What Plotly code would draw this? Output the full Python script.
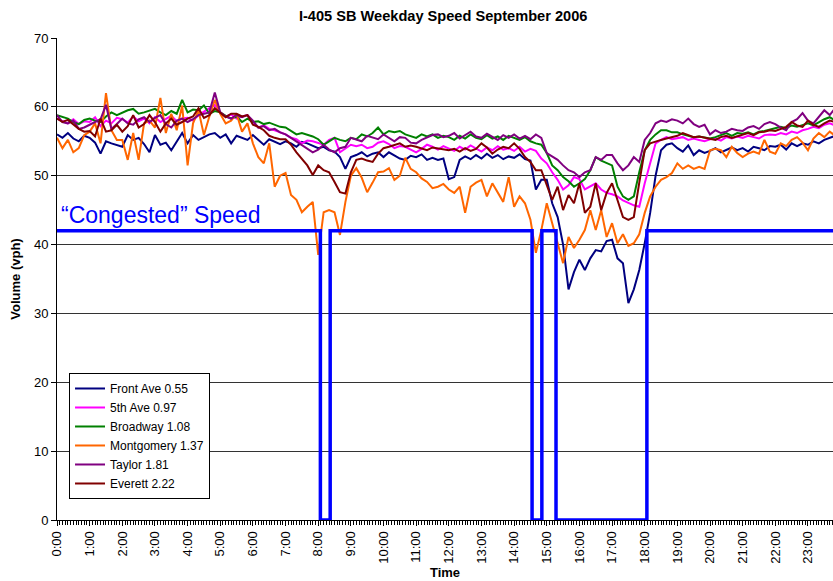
import pandas as pd
import plotly.graph_objects as go

DAY = "2006-09-01"
# 10-minute samples, 0:00 .. 23:50
times = pd.date_range(f"{DAY} 00:00", periods=144, freq="10min")

front_ave = [
    56.0, 55.5, 56.2, 55.4, 55.0, 55.8,
    55.5, 54.8, 53.2, 55.0, 54.7, 54.5,
    54.2, 55.9, 55.2, 55.5, 54.6, 53.4,
    55.9, 54.5, 54.8, 53.7, 55.0, 56.2,
    54.7, 55.9, 55.2, 55.6, 56.0, 56.2,
    55.5, 56.0, 54.7, 55.8, 55.5, 55.2,
    55.9, 55.2, 54.5, 55.3, 55.0, 54.6,
    55.0, 54.7, 54.2, 54.9, 54.7, 54.3,
    54.0, 54.2, 53.7, 53.5, 52.7, 51.0,
    52.7, 53.0, 53.4, 52.8, 53.2, 53.4,
    52.7, 53.4, 53.0, 52.5, 52.3, 52.9,
    52.7, 53.1, 52.3, 52.6, 52.3, 52.5,
    49.5, 49.8, 52.3, 52.8, 52.4, 53.0,
    52.5, 53.2, 52.6, 53.0, 52.4, 52.8,
    52.6, 53.1, 52.4, 52.2, 48.0, 49.4,
    49.4, 46.0, 44.0, 40.0, 33.5, 36.0,
    37.8, 36.3, 38.0, 39.2, 39.0, 40.5,
    40.7, 38.0, 37.3, 31.5, 33.5, 36.3,
    40.2, 44.6, 50.0, 53.7, 54.5, 54.7,
    54.0, 53.5, 54.4, 53.0, 53.7, 53.3,
    53.6, 54.0, 53.4, 53.7, 54.1, 53.7,
    54.0, 53.5, 54.2, 54.0, 53.7, 54.3,
    54.2, 54.5, 53.8, 54.7, 54.3, 54.7,
    54.5, 55.0, 54.7, 55.2, 55.5, 55.8,
]

fifth_ave = [
    58.3, 58.0, 57.6, 58.2, 57.5, 57.9,
    57.8, 58.5, 57.2, 58.0, 57.6, 58.4,
    58.2, 57.7, 58.6, 57.9, 58.3, 57.6,
    58.5, 57.8, 58.2, 58.7, 57.9, 58.3,
    58.4, 58.0, 58.8, 59.3, 59.8, 60.3,
    59.2, 58.6, 58.9, 58.3, 58.6, 58.8,
    57.8, 57.0, 57.3, 56.8, 56.6, 56.3,
    56.0, 55.5, 55.3, 54.7, 55.1, 55.0,
    54.8, 54.5, 55.2, 55.5, 53.4, 54.0,
    54.5, 54.3, 54.5, 54.0, 54.2, 54.8,
    55.0, 54.6, 54.0, 54.3, 54.2, 53.8,
    53.4, 53.9, 54.5, 54.2, 53.8, 54.3,
    54.0, 53.6, 54.2, 53.8, 54.4, 53.9,
    53.5, 54.1, 53.7, 54.3, 53.8, 54.0,
    53.6, 54.2, 53.5, 53.9, 53.6, 52.5,
    51.8, 50.5, 49.4, 48.0, 48.6, 49.8,
    49.5, 48.0, 48.4, 48.9, 48.0, 47.5,
    47.3, 47.0, 46.4, 46.0, 45.7, 45.5,
    48.9, 51.8, 54.7, 55.2, 55.6, 55.3,
    55.4, 55.6, 55.2, 55.4, 55.2, 55.0,
    55.3, 55.4, 55.1, 55.6, 55.4, 55.7,
    55.5, 55.8, 55.6, 55.4, 55.9, 56.0,
    55.9, 56.2, 56.0, 56.4, 56.2, 56.6,
    56.8, 57.1, 56.9, 57.4, 57.6, 57.3,
]

broadway = [
    58.8, 58.5, 58.3, 57.8, 57.5, 58.1,
    58.3, 58.0, 57.8, 58.6, 59.2, 58.8,
    59.2, 59.5, 59.7, 59.0, 59.2, 59.5,
    59.7, 59.2, 58.8, 59.4, 59.0, 61.0,
    59.2, 59.6, 59.5, 60.2, 59.0, 59.4,
    59.2, 58.7, 58.3, 58.6, 57.8, 58.3,
    57.8, 57.9, 57.5, 57.7, 57.4, 57.1,
    57.0, 56.5, 56.0, 56.2, 56.0, 55.7,
    55.3, 54.5, 55.0, 55.5, 55.2, 55.0,
    55.5, 55.3, 56.0, 55.7, 56.2, 57.0,
    56.0, 56.5, 56.3, 56.5, 56.0, 55.8,
    55.5, 56.0, 55.7, 56.0, 55.5, 55.8,
    55.6, 55.2, 55.8, 55.4, 56.0, 55.5,
    55.3, 55.9, 55.4, 55.7, 55.2, 55.8,
    55.5, 55.2, 55.6, 55.0, 54.7, 54.5,
    53.3, 51.5, 50.8, 49.8, 49.2, 48.4,
    48.9, 49.5, 50.8, 52.7, 52.2, 51.8,
    51.5, 48.4, 47.0, 46.5, 47.0, 50.5,
    53.7, 55.2, 56.0, 56.6, 56.6, 56.3,
    56.3, 56.0, 55.8, 55.6, 55.7, 55.5,
    55.4, 55.6, 55.9, 56.2, 55.8, 56.2,
    56.1, 56.3, 56.0, 56.4, 56.5, 56.7,
    56.8, 57.1, 56.9, 57.3, 57.1, 57.4,
    57.6, 57.3, 57.8, 58.2, 58.5, 58.0,
]

montgomery = [
    55.5, 54.0, 55.2, 53.4, 54.0, 55.9,
    56.4, 57.6, 54.7, 62.0, 56.6, 55.2,
    55.2, 52.3, 56.2, 52.3, 57.6, 58.0,
    57.0, 61.3, 56.2, 59.0, 56.6, 60.2,
    51.5, 57.6, 59.5, 55.9, 58.6, 61.0,
    59.0, 57.6, 58.0, 59.0, 56.4, 57.6,
    54.7, 52.7, 51.8, 54.7, 48.4, 50.0,
    50.4, 47.2, 46.5, 44.7, 45.5, 46.2,
    38.5, 44.7, 45.0, 44.7, 41.4, 46.2,
    50.0, 51.1, 49.7, 47.6, 49.0, 50.5,
    50.6, 51.1, 49.4, 50.0, 52.6, 51.0,
    50.5, 49.6, 49.1, 48.2, 48.4, 48.8,
    48.0, 47.5, 48.4, 44.6, 48.4, 49.0,
    49.4, 47.0, 48.9, 47.5, 46.2, 49.8,
    45.5, 47.0, 46.0, 43.6, 38.8, 42.1,
    46.0, 43.1, 40.2, 37.3, 41.1, 39.5,
    40.7, 42.1, 45.0, 42.1, 45.0, 41.1,
    43.1, 40.2, 41.5, 39.8, 40.2, 41.5,
    44.6, 47.0, 48.4, 49.4, 49.8, 50.4,
    51.8, 51.0, 51.5, 51.0, 51.3, 51.0,
    53.7, 53.9, 53.7, 52.7, 54.2, 53.3,
    52.7, 53.2, 53.5, 53.2, 55.2, 53.5,
    53.2, 54.7, 54.3, 55.2, 55.6, 54.8,
    53.7, 55.4, 56.2, 55.6, 56.4, 55.8,
]

taylor = [
    58.8, 57.8, 57.6, 58.0, 56.8, 57.0,
    57.4, 57.8, 58.2, 60.3, 56.8, 57.5,
    58.3, 57.6, 57.4, 58.2, 58.5, 57.8,
    58.4, 58.8, 57.5, 57.0, 58.0, 58.3,
    57.8, 58.2, 58.8, 59.0, 59.2, 62.1,
    59.2, 58.6, 58.3, 58.8, 58.5, 58.8,
    58.0, 57.0, 57.2, 56.6, 56.8, 56.3,
    56.0, 55.5, 55.0, 54.5, 54.0, 53.4,
    53.8, 54.5, 53.8, 53.4, 54.0, 54.2,
    55.5, 55.2, 55.0, 55.8, 55.5, 55.3,
    56.0, 55.5, 55.0, 55.6, 55.5, 54.8,
    54.7, 55.2, 55.5, 55.9, 56.0, 55.6,
    55.8, 56.2, 55.4, 55.9, 56.4, 55.7,
    55.5, 56.1, 55.6, 55.2, 55.9, 55.5,
    56.0, 55.4, 55.8, 55.3, 56.0, 55.5,
    53.3, 52.8, 52.3, 51.5, 50.8, 50.5,
    49.8, 50.5, 50.8, 52.7, 52.3, 53.0,
    53.0, 51.8, 50.8, 51.5, 52.7, 52.0,
    55.2, 56.2, 57.6, 58.0, 57.8, 58.2,
    58.0, 57.6, 58.3, 57.5, 57.1, 57.4,
    56.0, 56.6, 56.2, 56.4, 56.8, 56.6,
    56.5, 57.0, 57.2, 56.8, 57.5, 57.8,
    57.5, 57.0, 56.6, 57.8, 58.2, 59.1,
    58.0, 57.6, 58.5, 59.5, 58.8, 59.8,
]

everett = [
    58.3, 57.8, 58.1, 57.4, 56.8, 56.4,
    56.5, 55.7, 58.3, 56.4, 56.6, 57.4,
    56.4, 57.2, 58.8, 57.0, 57.5, 58.8,
    57.8, 56.4, 57.6, 58.3, 57.4, 57.8,
    58.3, 58.6, 59.8, 58.4, 58.8, 59.8,
    59.2, 58.5, 59.0, 59.0, 58.6, 58.8,
    57.4, 57.1, 56.6, 55.8, 55.5, 55.3,
    55.3, 54.5, 53.4, 52.5, 51.5, 50.1,
    51.5, 50.8, 50.5, 49.1, 47.6, 47.4,
    50.5, 52.3, 52.5, 52.2, 52.0, 53.2,
    54.0, 54.2, 54.5, 54.7, 54.2, 54.4,
    54.2, 53.9, 53.7, 54.1, 54.0, 53.8,
    53.7, 53.9, 53.5, 54.0, 53.6, 53.9,
    54.7, 54.1, 53.2, 53.8, 54.2, 54.0,
    54.7, 53.9, 52.7, 52.0, 50.8, 50.8,
    48.5, 46.5, 48.4, 45.0, 47.2, 46.0,
    48.9, 44.6, 45.5, 48.9, 45.0, 47.5,
    48.9, 46.5, 44.0, 43.6, 44.0, 49.0,
    53.7, 54.7, 55.0, 55.2, 55.4, 55.6,
    55.8, 56.2, 55.9, 55.6, 55.7, 55.5,
    55.4, 55.2, 55.6, 55.8, 55.5, 55.7,
    56.0, 56.2, 55.9, 56.3, 56.4, 56.6,
    56.5, 56.8, 57.1, 57.8, 57.3, 57.1,
    58.0, 57.4, 57.1, 57.6, 58.0, 57.8,
]

series = [
    ("Front Ave 0.55", front_ave, "#000080"),
    ("5th Ave 0.97", fifth_ave, "#FF00FF"),
    ("Broadway 1.08", broadway, "#008000"),
    ("Montgomery 1.37", montgomery, "#FF6600"),
    ("Taylor 1.81", taylor, "#800080"),
    ("Everett 2.22", everett, "#800000"),
]

congested_speed = 42
congested_periods = [("08:04", "08:22"), ("14:33", "14:51"), ("15:17", "18:04")]

FONT = "Arial, Liberation Sans, sans-serif"

fig = go.Figure()
for name, vals, color in series:
    fig.add_trace(
        go.Scatter(
            x=times,
            y=vals,
            mode="lines",
            name=name,
            line=dict(color=color, width=2),
        )
    )

# congestion indicator: sits at the threshold, drops to 0 while congested
cx, cy = [f"{DAY} 00:00"], [congested_speed]
for start, end in congested_periods:
    cx += [f"{DAY} {start}", f"{DAY} {start}", f"{DAY} {end}", f"{DAY} {end}"]
    cy += [congested_speed, 0, 0, congested_speed]
cx.append(f"{DAY} 23:59")
cy.append(congested_speed)
fig.add_trace(
    go.Scatter(
        x=cx,
        y=cy,
        mode="lines",
        line=dict(color="#0000FF", width=3.5),
        showlegend=False,
    )
)

fig.add_annotation(
    text="\u201cCongested\u201d Speed",
    xref="paper",
    x=0.003,
    xanchor="left",
    yref="y",
    y=congested_speed,
    yanchor="bottom",
    yshift=1,
    showarrow=False,
    font=dict(family=FONT, size=23, color="#0000FF"),
)

fig.update_layout(
    width=833,
    height=581,
    margin=dict(l=57, r=0, t=38, b=61),
    paper_bgcolor="white",
    plot_bgcolor="white",
    font=dict(family=FONT, size=12, color="black"),
    title=dict(
        text="<b>I-405 SB Weekday Speed September 2006</b>",
        x=0.532,
        xanchor="center",
        y=0.972,
        yanchor="middle",
        font=dict(family=FONT, size=14.6, color="black"),
    ),
    legend=dict(
        x=0.0155,
        y=0.305,
        xanchor="left",
        yanchor="top",
        bgcolor="white",
        bordercolor="black",
        borderwidth=1,
        font=dict(family=FONT, size=12),
        itemwidth=30,
        tracegroupgap=0,
    ),
    showlegend=True,
)

fig.update_xaxes(
    type="date",
    range=[f"{DAY} 00:00", f"{DAY} 23:46"],
    tick0=f"{DAY} 00:00",
    dtick=3600000,
    tickformat="%-H:%M",
    tickangle=-90,
    ticks="outside",
    ticklen=5,
    tickcolor="black",
    minor=dict(dtick=300000, ticks="outside", ticklen=4, tickcolor="black", showgrid=False),
    showgrid=False,
    showline=True,
    linecolor="black",
    linewidth=1,
    tickfont=dict(family=FONT, size=13),
    title=dict(text="<b>Time</b>", font=dict(family=FONT, size=13), standoff=5),
)
fig.update_yaxes(
    range=[0, 70],
    dtick=10,
    showgrid=True,
    gridcolor="#333333",
    gridwidth=1,
    zeroline=False,
    showline=True,
    linecolor="black",
    linewidth=1,
    ticks="outside",
    ticklen=5,
    tickcolor="black",
    tickfont=dict(family=FONT, size=13),
    title=dict(text="<b>Volume (vph)</b>", font=dict(family=FONT, size=13), standoff=10),
)

# the page body's default 8px margin would push the figure off the window
fig.write_html(
    "out.html",
    config={"displayModeBar": False},
    post_script="document.body.style.margin='0';",
)
